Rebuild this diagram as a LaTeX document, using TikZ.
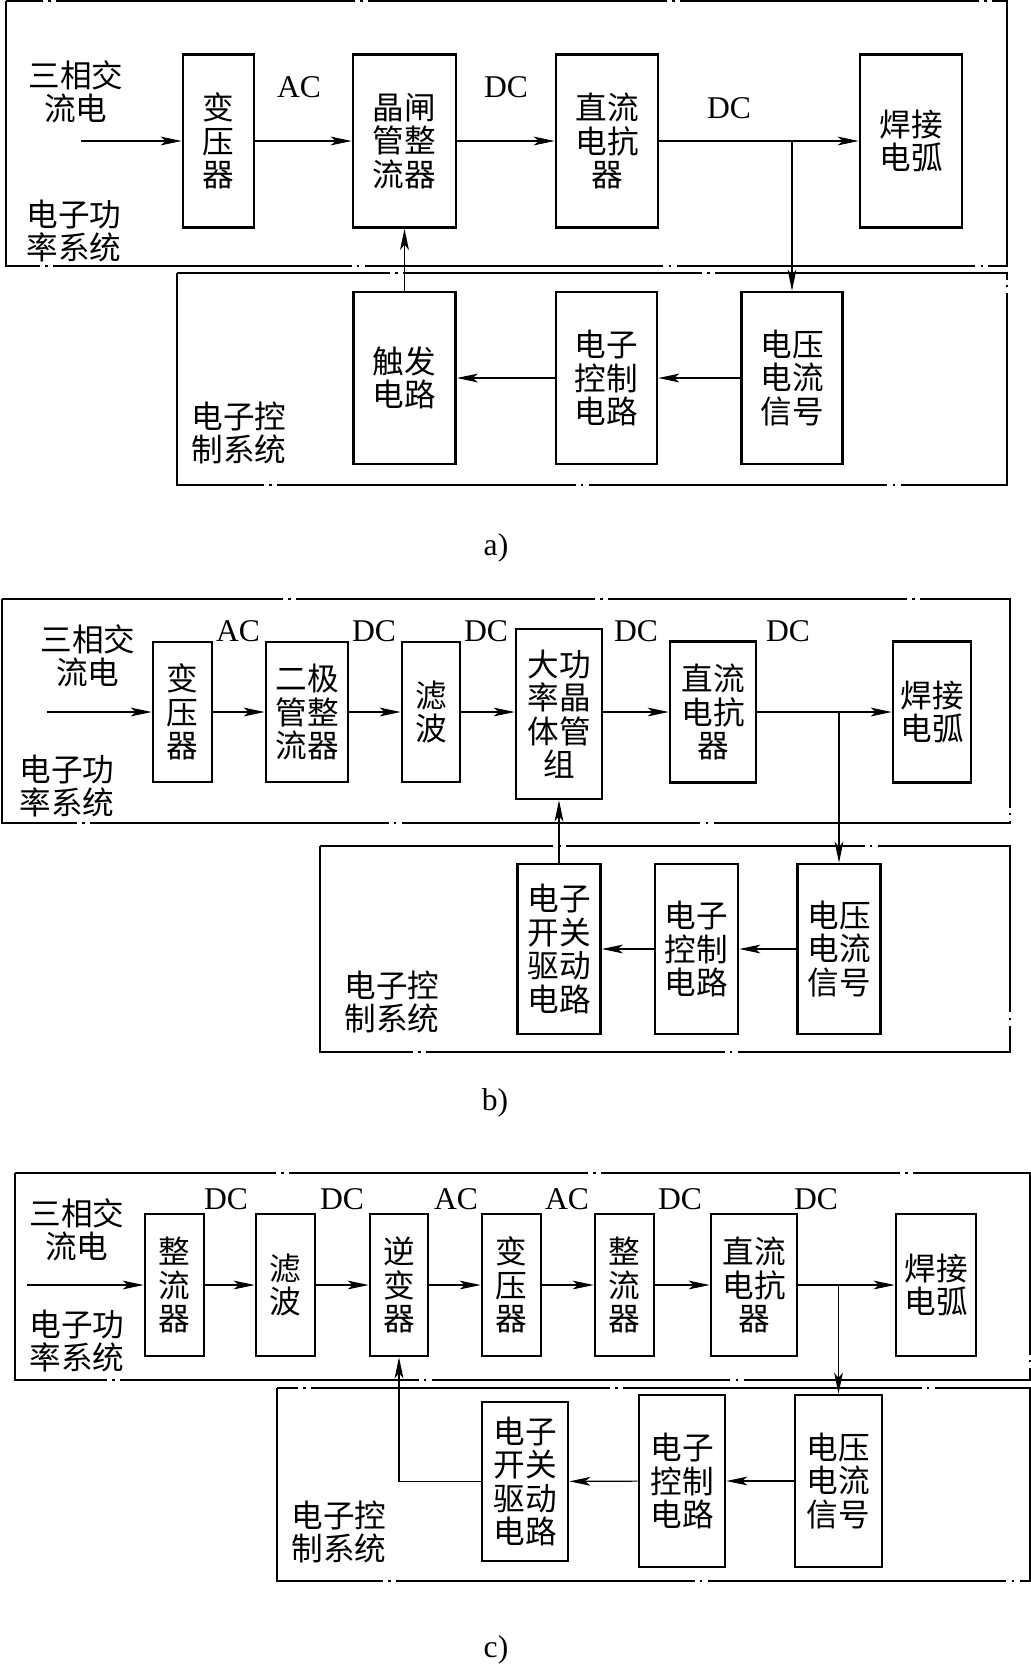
\documentclass[tikz,border=0pt]{standalone}
\usepackage{fontspec}
\setmainfont{Liberation Serif}
\newfontfamily\cjk{Noto Sans CJK SC}
\usetikzlibrary{arrows.meta}
\tikzset{
  unit/.style={
    rectangle,
    draw=black,
    line width=1.5pt,
    align=center,
    inner sep=0pt,
    font=\cjk\fontsize{18}{19}\selectfont
  }
}
\tikzset{
  sz/.style 2 args={minimum width=#1*0.02cm, minimum height=#2*0.02cm},
  frame/.style={draw=black, line width=0.7pt, dash pattern=on 170pt off 3pt on 1.5pt off 3pt},
  lbl/.style={align=center, inner sep=0pt, font=\cjk\fontsize{18}{19}\selectfont},
  sig/.style={inner sep=0pt, font=\fontsize{18}{19}\selectfont}
}
\tikzstyle{arrow} = [-{Stealth[length=12pt, width=5pt, inset=3pt]}, line width=0.65pt]

\begin{document}
\begin{tikzpicture}[x=0.02cm, y=-0.02cm]
  \useasboundingbox (0,0) rectangle (1031,1668);
  % a)
  \draw[frame] (6,1) rectangle (1007,266);
  \draw[frame] (177,273) rectangle (1007,485);
  \node[unit, sz={71}{173}] (a1) at (218.5,141) {变\\压\\器};
  \node[unit, sz={103}{173}] (a2) at (404.5,141) {晶闸\\管整\\流器};
  \node[unit, sz={102}{173}] (a3) at (607,141) {直流\\电抗\\器};
  \node[unit, sz={102}{173}] (a4) at (911,141) {焊接\\电弧};
  \node[unit, sz={102}{172}] (a5) at (404.5,378) {触发\\电路};
  \node[unit, sz={101}{172}] (a6) at (606.5,378) {电子\\控制\\电路};
  \node[unit, sz={101}{172}] (a7) at (792,378) {电压\\电流\\信号};
  \node[lbl] (ain) at (76,92) {三相交\\流电};
  \node[lbl] (apow) at (74,231) {电子功\\率系统};
  \node[lbl] (actl) at (239,433) {电子控\\制系统};
  \node[sig] (aac) at (299,87) {AC};
  \node[sig] (adc1) at (506,87) {DC};
  \node[sig] (adc2) at (729,108) {DC};
  \node[sig] (acap) at (496,548) {a)};
  \coordinate (ain0) at (81,141);
  \coordinate (apa) at (a7 |- a3);
  \draw[arrow] (ain0) -- (a1);
  \draw[arrow] (a1) -- (a2);
  \draw[arrow] (a2) -- (a3);
  \draw[arrow] (a3) -- (a4);
  \draw[arrow] (apa) -- (a7);
  \draw[arrow] (a7) -- (a6);
  \draw[arrow] (a6) -- (a5);
  \draw[arrow] (a5) -- (a2);
  % b)
  \draw[frame] (2,599) rectangle (1010,823);
  \draw[frame] (320,846) rectangle (1010,1052);
  \node[unit, sz={59}{140}] (b1) at (182.5,712) {变\\压\\器};
  \node[unit, sz={82}{140}] (b2) at (307,712) {二极\\管整\\流器};
  \node[unit, sz={58}{140}] (b3) at (431,712) {滤\\波};
  \node[unit, sz={86}{170}] (b4) at (559,714) {大功\\率晶\\体管\\组};
  \node[unit, sz={86}{141}] (b5) at (713,712) {直流\\电抗\\器};
  \node[unit, sz={78}{141}] (b6) at (932,712) {焊接\\电弧};
  \node[unit, sz={83}{170}] (b7) at (559,949) {电子\\开关\\驱动\\电路};
  \node[unit, sz={83}{170}] (b8) at (696.5,949) {电子\\控制\\电路};
  \node[unit, sz={83}{170}] (b9) at (839,949) {电压\\电流\\信号};
  \node[lbl] (bin) at (88,656) {三相交\\流电};
  \node[lbl] (bpow) at (67,786) {电子功\\率系统};
  \node[lbl] (bctl) at (392,1002) {电子控\\制系统};
  \node[sig] (bac) at (238,631) {AC};
  \node[sig] (bdc1) at (374,631) {DC};
  \node[sig] (bdc2) at (486,631) {DC};
  \node[sig] (bdc3) at (636,631) {DC};
  \node[sig] (bdc4) at (788,631) {DC};
  \node[sig] (bcap) at (495,1103) {b)};
  \coordinate (bin0) at (47,712);
  \coordinate (bpa) at (b9 |- b5);
  \draw[arrow] (bin0) -- (b1);
  \draw[arrow] (b1) -- (b2);
  \draw[arrow] (b2) -- (b3);
  \draw[arrow] (b3) -- (b3 -| b4.west);
  \draw[arrow] (b4.east |- b5) -- (b5);
  \draw[arrow] (b5) -- (b6);
  \draw[arrow] (bpa) -- (b9);
  \draw[arrow] (b9) -- (b8);
  \draw[arrow] (b8) -- (b7);
  \draw[arrow] (b7) -- (b4);
  % c)
  \draw[frame] (15,1173) rectangle (1030,1380);
  \draw[frame] (277,1388) rectangle (1030,1581);
  \node[unit, sz={59}{142}] (c1) at (174.5,1285) {整\\流\\器};
  \node[unit, sz={59}{142}] (c2) at (285.5,1285) {滤\\波};
  \node[unit, sz={58}{142}] (c3) at (399,1285) {逆\\变\\器};
  \node[unit, sz={59}{142}] (c4) at (511.5,1285) {变\\压\\器};
  \node[unit, sz={59}{142}] (c5) at (624.5,1285) {整\\流\\器};
  \node[unit, sz={86}{142}] (c6) at (754,1285) {直流\\电抗\\器};
  \node[unit, sz={80}{142}] (c7) at (936,1285) {焊接\\电弧};
  \node[unit, sz={86}{159}] (c8) at (525,1481.5) {电子\\开关\\驱动\\电路};
  \node[unit, sz={86}{172}] (c9) at (682,1481) {电子\\控制\\电路};
  \node[unit, sz={87}{172}] (c10) at (838.5,1481) {电压\\电流\\信号};
  \node[lbl] (cin) at (77,1230) {三相交\\流电};
  \node[lbl] (cpow) at (77,1341) {电子功\\率系统};
  \node[lbl] (cctl) at (339,1532) {电子控\\制系统};
  \node[sig] (cdc1) at (226,1199) {DC};
  \node[sig] (cdc2) at (342,1199) {DC};
  \node[sig] (cac1) at (456,1199) {AC};
  \node[sig] (cac2) at (567,1199) {AC};
  \node[sig] (cdc3) at (680,1199) {DC};
  \node[sig] (cdc4) at (816,1199) {DC};
  \node[sig] (ccap) at (496,1650) {c)};
  \coordinate (cin0) at (27,1285);
  \coordinate (cpa) at (c10 |- c6);
  \draw[arrow] (cin0) -- (c1);
  \draw[arrow] (c1) -- (c2);
  \draw[arrow] (c2) -- (c3);
  \draw[arrow] (c3) -- (c4);
  \draw[arrow] (c4) -- (c5);
  \draw[arrow] (c5) -- (c6);
  \draw[arrow] (c6) -- (c7);
  \draw[arrow] (cpa) -- (c10);
  \draw[arrow] (c10) -- (c9);
  \draw[arrow] (c9) -- (c8);
  \draw[arrow] (c8.west) -| (c3.south);
\end{tikzpicture}
\end{document}
